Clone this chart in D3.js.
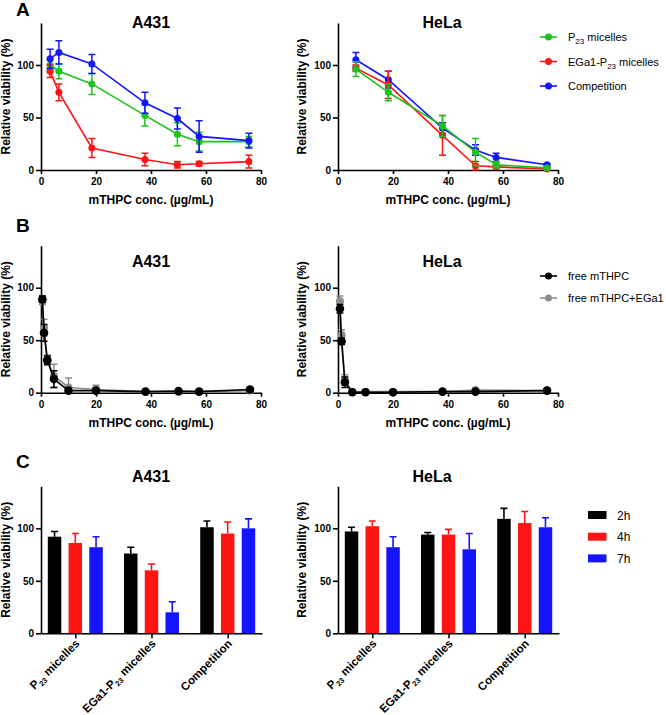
<!DOCTYPE html>
<html>
<head>
<meta charset="utf-8">
<script src="https://cdn.jsdelivr.net/npm/d3@7"></script>
<style>
  body { margin: 0; background: #fff; }
  svg { display: block; }
</style>
</head>
<body>
<svg id="fig" width="666" height="715"></svg>
<script>
// ---- panel A : micelles, cell viability vs mTHPC concentration ----
const concA431 = [3.3, 6.5, 18.5, 37.8, 49.6, 57.5, 75.6];
const p23A431 = [100, 94, 82, 52, 34, 27, 27];
const p23A431Err = [5, 7, 10, 10, 11, 9, 5];
const ega1A431 = [94, 74, 21, 10, 5, 6, 8];
const ega1A431Err = [6, 8, 9, 6, 3, 2, 6];
const compA431 = [106, 112, 101, 64, 49, 32, 28];
const compA431Err = [9, 11, 9, 10, 10, 15, 7];

const concHeLa = [6.5, 18.3, 38, 50, 57.5, 76];
const p23HeLa = [96, 74, 42, 17, 5, 2];
const p23HeLaErr = [7, 8, 10, 13, 3, 1];
const ega1HeLa = [97, 81, 33, 4, 3, 1];
const ega1HeLaErr = [3, 13, 19, 4, 2, 1];
const compHeLa = [105, 86, 40, 19, 12, 5];
const compHeLaErr = [7, 8, 5, 5, 4, 1];

// ---- panel B : free mTHPC ----
const concFreeA431 = [0.5, 1.1, 2.3, 4.7, 10, 20, 38, 50, 57.5, 76];
const freeA431 = [89, 57, 31, 13, 2, 2, 1, 1.5, 1, 3];
const freeA431Err = [3, 8, 4, 8, 2, 2, 1, 1, 1, 1];
const freeEgaA431 = [88, 62, 31, 16, 5, 3, 1, 1, 1, 2];
const freeEgaA431Err = [4, 8, 5, 11, 9, 4, 1, 1, 1, 1];

const concFreeHeLa = [0.7, 1.3, 2.5, 5.2, 10, 20, 38, 50, 76];
const freeHeLa = [80, 49, 10, 0.5, 0.5, 0.5, 1, 1, 2];
const freeHeLaErr = [4, 3, 5, 1, 1, 1, 1, 1, 1];
const freeEgaHeLa = [87, 55, 12, 1, 1, 1, 1, 2.5, 2];
const freeEgaHeLaErr = [5, 5, 5, 1, 1, 1, 1, 1, 1];

// ---- panel C : incubation time ----
const groups = ["P_{23} micelles", "EGa1-P_{23} micelles", "Competition"];
const timepoints = ["2h", "4h", "7h"];
const a431_2h = [92, 76, 101], a431_2hErr = [5, 6, 6];
const a431_4h = [86, 60, 95], a431_4hErr = [9, 6, 11];
const a431_7h = [82, 20, 100], a431_7hErr = [10, 10, 9];
const hela_2h = [97, 94, 109], hela_2hErr = [4, 2, 10];
const hela_4h = [102, 94, 105], hela_4hErr = [5, 5, 11];
const hela_7h = [82, 80, 101], hela_7hErr = [10, 15, 9];

const FONT = '"Liberation Sans", Arial, Helvetica, sans-serif';
const GREEN = "#1ec21e", RED = "#ff1414", BLUE = "#1414ff", GREY = "#8c8c8c";
const PX = 1.05; // pixels per % viability

const svg = d3.select("#fig").attr("font-family", FONT);

// text with "_{..}" subscripts
function rich(sel, str, subSize) {
  const parts = str.split(/(_\{[^}]*\})/).filter(s => s.length);
  let down = false;
  parts.forEach(p => {
    if (p.startsWith("_{")) {
      sel.append("tspan").attr("font-size", subSize).attr("dy", 3).text(p.slice(2, -1));
      down = true;
    } else {
      const t = sel.append("tspan").text(p);
      if (down) { t.attr("dy", -3); down = false; }
    }
  });
}

function styleAxis(g) {
  g.attr("font-family", FONT).attr("font-size", 10);
  g.select(".domain").attr("stroke-width", 1.6);
  g.selectAll(".tick line").attr("stroke-width", 1.6);
  g.selectAll(".tick text").attr("font-weight", "bold").attr("fill", "#000");
}

function frame(p, y) {
  svg.append("g")
    .attr("transform", `translate(${p.left},0)`)
    .call(d3.axisLeft(y).tickValues([0, 50, 100]).tickSize(5).tickPadding(2).tickSizeOuter(0))
    .call(styleAxis);

  svg.append("text")
    .attr("transform", `translate(${p.ylabX},${(y(0) + y(140)) / 2}) rotate(-90)`)
    .attr("text-anchor", "middle").attr("font-size", 12).attr("font-weight", "bold")
    .text("Relative viability (%)");

  svg.append("text")
    .attr("x", p.titleX).attr("y", p.titleY)
    .attr("text-anchor", "middle").attr("font-size", 16).attr("font-weight", "bold")
    .text(p.title);
}

function xyPanel(p) {
  const x = d3.scaleLinear().domain([0, 80]).range([p.left, p.left + 220]);
  const y = d3.scaleLinear().domain([0, 140]).range([p.bottom, p.bottom - 140 * PX]);

  svg.append("g")
    .attr("transform", `translate(0,${p.bottom})`)
    .call(d3.axisBottom(x).tickValues([0, 20, 40, 60, 80]).tickSize(4).tickPadding(4).tickSizeOuter(0))
    .call(styleAxis);

  svg.append("text")
    .attr("x", (x(0) + x(80)) / 2).attr("y", p.bottom + 34)
    .attr("text-anchor", "middle").attr("font-size", 12).attr("font-weight", "bold")
    .text("mTHPC conc. (\u00b5g/mL)");

  frame(p, y);

  p.series.forEach(s => {
    const pts = s.x.map((xv, i) => ({ x: xv, y: s.y[i], e: s.err[i] }));
    const g = svg.append("g");
    g.selectAll("path.err").data(pts).join("path")
      .attr("class", "err")
      .attr("fill", "none").attr("stroke", s.color).attr("stroke-width", 1.5)
      .attr("d", d => {
        const cx = x(d.x), hi = y(d.y + d.e), lo = y(Math.max(0, d.y - d.e));
        return `M${cx},${lo}V${hi}M${cx - 3.5},${hi}h7M${cx - 3.5},${lo}h7`;
      });
    g.append("path").datum(pts)
      .attr("fill", "none").attr("stroke", s.color).attr("stroke-width", 1.6)
      .attr("d", d3.line().x(d => x(d.x)).y(d => y(d.y)));
    g.selectAll("circle").data(pts).join("circle")
      .attr("cx", d => x(d.x)).attr("cy", d => y(d.y))
      .attr("r", s.r).attr("fill", s.color);
  });
}

function barPanel(p) {
  const x = d3.scalePoint().domain(groups).range([p.left, p.left + 221]).padding(0.45);
  const xi = d3.scaleBand().domain(timepoints).range([-27.5, 27.5]).paddingInner(0.35);
  const y = d3.scaleLinear().domain([0, 140]).range([p.bottom, p.bottom - 140 * PX]);
  const colors = d3.scaleOrdinal().domain(timepoints).range(["#000", RED, BLUE]);

  const rows = [];
  groups.forEach((gname, gi) => timepoints.forEach((t, ti) => {
    rows.push({ g: gname, t: t, v: p.values[ti][gi], e: p.errors[ti][gi] });
  }));

  const g = svg.append("g");
  g.selectAll("path").data(rows).join("path")
    .attr("fill", "none").attr("stroke", d => colors(d.t)).attr("stroke-width", 1.6)
    .attr("d", d => {
      const cx = x(d.g) + xi(d.t) + xi.bandwidth() / 2, hi = y(d.v + d.e);
      return `M${cx},${y(d.v)}V${hi}M${cx - 3.5},${hi}h7`;
    });
  g.selectAll("rect").data(rows).join("rect")
    .attr("x", d => x(d.g) + xi(d.t)).attr("width", xi.bandwidth())
    .attr("y", d => y(d.v)).attr("height", d => y(0) - y(d.v))
    .attr("fill", d => colors(d.t));

  svg.append("g")
    .attr("transform", `translate(0,${p.bottom})`)
    .call(d3.axisBottom(x).tickSize(5).tickFormat("").tickSizeOuter(0))
    .call(styleAxis);

  groups.forEach(gname => {
    const t = svg.append("text")
      .attr("transform", `translate(${x(gname) + 5},${p.bottom + 11}) rotate(-45)`)
      .attr("text-anchor", "end").attr("font-size", 11.5).attr("font-weight", "bold");
    rich(t, gname, 7.5);
  });

  frame(p, y);
}

function lineLegend(items, x0, y0, gap) {
  items.forEach((it, i) => {
    const yy = y0 + i * gap;
    svg.append("line").attr("x1", x0).attr("x2", x0 + 17).attr("y1", yy).attr("y2", yy)
      .attr("stroke", it.color).attr("stroke-width", 1.6);
    svg.append("circle").attr("cx", x0 + 8.5).attr("cy", yy).attr("r", it.r).attr("fill", it.color);
    const t = svg.append("text").attr("x", x0 + 28).attr("y", yy + 4).attr("font-size", 11);
    rich(t, it.label, 8);
  });
}

function panelLetter(ch, y) {
  svg.append("text").attr("x", 16).attr("y", y)
    .attr("font-size", 19).attr("font-weight", "bold").text(ch);
}

// ---- A ----
panelLetter("A", 16);
xyPanel({
  left: 41, bottom: 170, ylabX: 10, title: "A431", titleX: 151, titleY: 28,
  series: [
    { x: concA431, y: p23A431, err: p23A431Err, color: GREEN, r: 3.5 },
    { x: concA431, y: ega1A431, err: ega1A431Err, color: RED, r: 3.5 },
    { x: concA431, y: compA431, err: compA431Err, color: BLUE, r: 3.5 }
  ]
});
xyPanel({
  left: 338, bottom: 170, ylabX: 306, title: "HeLa", titleX: 442, titleY: 28,
  series: [
    { x: concHeLa, y: compHeLa, err: compHeLaErr, color: BLUE, r: 3.5 },
    { x: concHeLa, y: ega1HeLa, err: ega1HeLaErr, color: RED, r: 3.5 },
    { x: concHeLa, y: p23HeLa, err: p23HeLaErr, color: GREEN, r: 3.5 }
  ]
});
lineLegend([
  { label: "P_{23} micelles", color: GREEN, r: 3.5 },
  { label: "EGa1-P_{23} micelles", color: RED, r: 3.5 },
  { label: "Competition", color: BLUE, r: 3.5 }
], 540, 37, 24.5);

// ---- B ----
panelLetter("B", 232);
xyPanel({
  left: 41, bottom: 392.7, ylabX: 10, title: "A431", titleX: 151, titleY: 267,
  series: [
    { x: concFreeA431, y: freeEgaA431, err: freeEgaA431Err, color: GREY, r: 4 },
    { x: concFreeA431, y: freeA431, err: freeA431Err, color: "#000", r: 4.3 }
  ]
});
xyPanel({
  left: 338, bottom: 392.7, ylabX: 306, title: "HeLa", titleX: 442, titleY: 267,
  series: [
    { x: concFreeHeLa, y: freeEgaHeLa, err: freeEgaHeLaErr, color: GREY, r: 4 },
    { x: concFreeHeLa, y: freeHeLa, err: freeHeLaErr, color: "#000", r: 4.3 }
  ]
});
lineLegend([
  { label: "free mTHPC", color: "#000", r: 3.5 },
  { label: "free mTHPC+EGa1", color: GREY, r: 3.5 }
], 540, 276, 22);

// ---- C ----
panelLetter("C", 468);
barPanel({
  left: 41, bottom: 633.3, ylabX: 10, title: "A431", titleX: 151, titleY: 482,
  values: [a431_2h, a431_4h, a431_7h], errors: [a431_2hErr, a431_4hErr, a431_7hErr]
});
barPanel({
  left: 338, bottom: 633.3, ylabX: 306, title: "HeLa", titleX: 432, titleY: 482,
  values: [hela_2h, hela_4h, hela_7h], errors: [hela_2hErr, hela_4hErr, hela_7hErr]
});
const barColors = ["#000", RED, BLUE];
timepoints.forEach((t, i) => {
  const yy = 515 + i * 21.7;
  svg.append("rect").attr("x", 588).attr("y", yy - 4).attr("width", 18.5).attr("height", 8).attr("fill", barColors[i]);
  svg.append("text").attr("x", 617).attr("y", yy + 4.5).attr("font-size", 12).text(t);
});
</script>
</body>
</html>
